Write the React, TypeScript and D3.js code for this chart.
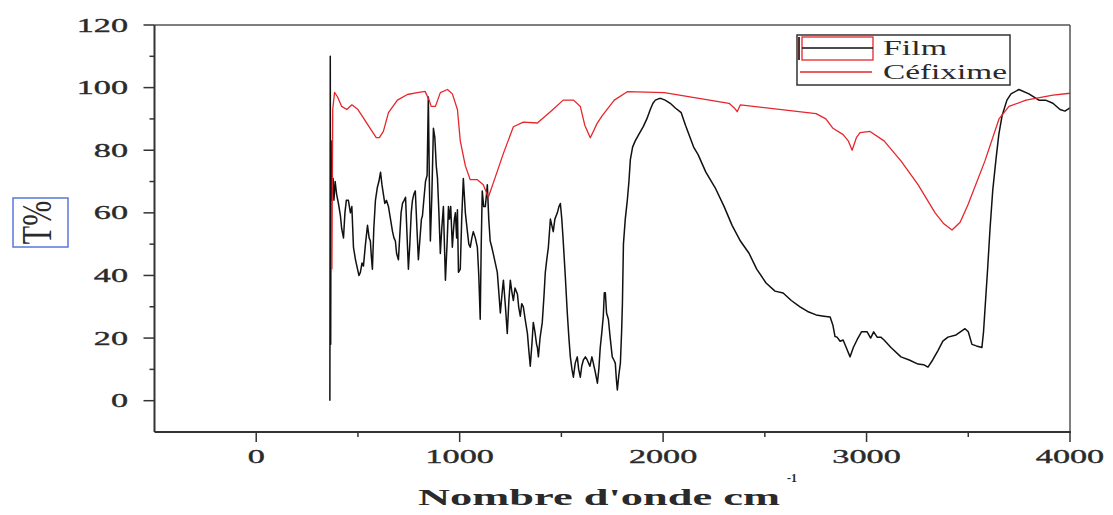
import React from "react";
import * as d3 from "d3";

// FTIR transmittance spectra (wavenumber in cm-1, transmittance in %)
const filmWave = [
  362, 364, 366, 368, 370, 372, 375, 378, 382, 388, 395, 404, 414, 420, 429, 436, 443, 453, 463, 470,
  478, 488, 498, 505, 512, 520, 527, 537, 547, 555, 561, 566, 571, 578, 586, 595, 603, 611, 618, 625,
  632, 640, 650, 660, 670, 677, 684, 690, 699, 705, 712, 719, 727, 734, 740, 748, 755, 762, 768, 775,
  782, 790, 797, 805, 812, 817, 825, 832, 840, 846, 851, 856, 863, 871, 878, 885, 891, 898, 905, 912,
  920, 925, 930, 938, 945, 950, 956, 964, 969, 974, 979, 985, 989, 994, 1003, 1010, 1018, 1028, 1038, 1045,
  1052, 1060, 1067, 1077, 1087, 1094, 1101, 1106, 1111, 1118, 1126, 1132, 1136, 1143, 1150, 1158, 1165, 1175, 1185, 1192,
  1200, 1208, 1215, 1225, 1234, 1242, 1249, 1256, 1264, 1272, 1284, 1290, 1298, 1305, 1313, 1322, 1333, 1340, 1347, 1355,
  1362, 1370, 1378, 1382, 1387, 1395, 1406, 1414, 1421, 1428, 1436, 1446, 1453, 1460, 1468, 1480, 1488, 1495, 1502, 1509,
  1519, 1529, 1537, 1544, 1552, 1559, 1568, 1578, 1585, 1593, 1600, 1608, 1618, 1627, 1640, 1650, 1657, 1667, 1677, 1684,
  1691, 1699, 1706, 1711, 1716, 1722, 1731, 1740, 1750, 1758, 1765, 1770, 1775, 1782, 1790, 1796, 1800, 1805, 1814, 1824,
  1832, 1839, 1850, 1863, 1880, 1903, 1920, 1937, 1950, 1962, 1980, 1991, 2010, 2035, 2060, 2089, 2110, 2133, 2150, 2172,
  2210, 2256, 2300, 2339, 2380, 2423, 2460, 2506, 2550, 2590, 2630, 2673, 2710, 2752, 2790, 2821, 2835, 2845, 2855, 2870,
  2885, 2900, 2919, 2935, 2953, 2975, 3003, 3020, 3035, 3052, 3070, 3086, 3120, 3169, 3210, 3253, 3280, 3302, 3325, 3351,
  3375, 3400, 3440, 3484, 3500, 3518, 3540, 3567, 3575, 3582, 3595, 3607, 3620, 3636, 3650, 3666, 3690, 3710, 3749, 3798,
  3847, 3880, 3916, 3951, 3975, 4000,
];
const filmT = [
  0, 110, 18, 83, 64, 72, 66, 71, 64, 70, 66, 63, 59, 55, 52, 60, 64, 64, 60, 62,
  49, 45, 42, 40, 41, 44, 43, 50, 56, 52, 51, 46, 42, 55, 64, 68, 70, 73, 69, 66,
  63, 64, 62, 58, 54, 52, 51, 47, 45, 52, 60, 63, 64, 65, 55, 42, 50, 60, 64, 66,
  67, 55, 45, 52, 58, 59, 65, 70, 72, 97, 70, 51, 65, 87, 84, 75, 71, 60, 47, 55,
  62, 50, 38.5, 50, 62, 58, 62, 49, 54, 58, 60, 52, 61, 41, 42, 58, 71, 60, 54, 50,
  49, 52, 54, 52, 49, 40, 26, 50, 67, 62, 62, 66, 69, 58, 51, 49, 47, 44, 41, 35,
  28, 34, 38.5, 30, 21.5, 32, 38.5, 35, 32, 36, 34, 30, 27, 31, 30, 26, 21.5, 16, 11, 18,
  25, 22, 18, 17, 14, 20, 25, 33, 41, 45, 49, 58, 56, 54, 58, 60, 62, 63, 58, 51,
  40, 28, 20, 14, 10, 7.5, 12, 14, 10, 7.5, 11, 13, 14, 13, 11, 14, 12, 9, 5.6, 10,
  17, 22, 27, 34.5, 34.5, 28, 26, 20, 14, 13, 12, 7, 3.4, 8, 12, 22, 31, 50, 58, 64,
  70, 77, 81, 83, 85, 87.6, 90, 93, 95, 96, 96.5, 96.5, 96, 95, 93.5, 92, 88, 84, 81, 78.6,
  73, 68, 62, 56, 51, 47, 42, 37.6, 35, 34.4, 32, 30, 28.5, 27.4, 27, 26.7, 24, 20.5, 20.3, 19,
  19.4, 17, 14, 17, 19.4, 22, 22, 20, 22, 20.3, 20.3, 19.4, 17, 14, 13, 11.7, 11.5, 10.7, 13, 16,
  19, 20.3, 21, 23, 22, 18, 17.5, 17, 22, 29, 42, 55, 67, 77, 85, 91, 96, 98, 99.4, 98,
  96, 96, 95, 93, 92.5, 93.5,
];

const cefWave = [
  372, 376, 385, 400, 420, 445, 470, 500, 530, 560, 590, 605, 625, 650, 694, 743, 792, 830, 850, 860,
  881, 905, 940, 964, 989, 1003, 1028, 1052, 1087, 1116, 1141, 1165, 1215, 1264, 1313, 1382, 1446, 1509, 1560, 1593,
  1615, 1642, 1657, 1675, 1700, 1760, 1824, 2006, 2324, 2350, 2364, 2380, 2752, 2800, 2835, 2885, 2910, 2929, 2950, 2968,
  3017, 3086, 3169, 3253, 3337, 3380, 3420, 3460, 3498, 3582, 3651, 3700, 3784, 3916, 4000,
];
const cefT = [
  42, 93, 98.5, 97, 94, 93, 94.5, 93, 90, 87, 84, 84, 86, 92, 96, 97.8, 98.4, 98.8, 96, 94,
  94, 98.4, 99.4, 98, 93, 83, 75, 70.6, 70.6, 69, 65, 69.5, 79, 87.5, 89, 88.7, 92.3, 96, 96, 94,
  88, 84, 86, 88.5, 91, 96, 98.7, 98.4, 95, 93.5, 92.3, 94.5, 91.7, 90, 87, 85, 83, 80, 84, 85.6,
  86, 83, 76.6, 69, 60, 56.5, 54.5, 57, 62.5, 76.6, 90, 94, 96, 97.6, 98.2,
];

const xMajorTicks = [0, 1000, 2000, 3000, 4000];
const xMinorTicks = [500, 1500, 2500, 3500];
const yMajorTicks = [0, 20, 40, 60, 80, 100, 120];
const yMinorTicks = [10, 30, 50, 70, 90, 110];

const seriesNames = ["Film", "Céfixime"];
const xTitle = "Nombre d'onde cm";
const yTitle = "T%";

const W = 1113;
const H = 515;
const FONT = "'Liberation Serif', 'Times New Roman', serif";
const INK = "#2a2a2a";
const RED = "#e5262c";

export default function App() {
  const x = d3.scaleLinear().domain([-500, 4000]).range([154.5, 1070]);
  const y = d3.scaleLinear().domain([-10, 120]).range([432, 25]);

  const film = filmWave.map((w, i) => [w, filmT[i]] as [number, number]);
  const cef = cefWave.map((w, i) => [w, cefT[i]] as [number, number]);
  const line = d3
    .line<[number, number]>()
    .x((d) => x(d[0]))
    .y((d) => y(d[1]));

  const [x0, x1] = x.range();
  const [yb, yt] = y.range();
  const digitW = 17.1; // stretched width of one digit glyph

  return (
    <svg
      width={W}
      height={H}
      style={{ position: "absolute", left: 0, top: 0, background: "#fff" }}
      fontFamily={FONT}
    >
      <rect width={W} height={H} fill="#fff" />

      {/* spectra */}
      <path d={line(film) ?? ""} fill="none" stroke="#111" strokeWidth={1.5} strokeLinejoin="round" />
      <path d={line(cef) ?? ""} fill="none" stroke={RED} strokeWidth={1.3} strokeLinejoin="round" />

      {/* frame */}
      <line x1={x0} x2={x1} y1={yt} y2={yt} stroke="#555" strokeWidth={1.5} />
      <line x1={x1} x2={x1} y1={yt} y2={yb} stroke="#555" strokeWidth={1.5} />
      <line x1={x0} x2={x0} y1={yt} y2={yb} stroke="#333" strokeWidth={2} />
      <line x1={x0} x2={x1 + 1} y1={yb} y2={yb} stroke="#333" strokeWidth={2} />

      {/* y axis ticks and labels */}
      {yMajorTicks.map((t) => (
        <g key={`ym${t}`}>
          <line x1={x0 - 11} x2={x0} y1={y(t)} y2={y(t)} stroke="#333" strokeWidth={1.5} />
          <text
            x={128}
            y={y(t) + 6.5}
            textAnchor="end"
            fontSize={19}
            fill={INK}
            stroke={INK}
            strokeWidth={0.35}
            textLength={String(t).length * digitW}
            lengthAdjust="spacingAndGlyphs"
          >
            {t}
          </text>
        </g>
      ))}
      {yMinorTicks.map((t) => (
        <line key={`yn${t}`} x1={x0 - 5} x2={x0} y1={y(t)} y2={y(t)} stroke="#333" strokeWidth={1.5} />
      ))}

      {/* x axis ticks and labels */}
      {xMajorTicks.map((t) => (
        <g key={`xm${t}`}>
          <line x1={x(t)} x2={x(t)} y1={yb} y2={yb + 10} stroke="#333" strokeWidth={1.5} />
          <text
            x={x(t)}
            y={463}
            textAnchor="middle"
            fontSize={19}
            fill={INK}
            stroke={INK}
            strokeWidth={0.35}
            textLength={String(t).length * digitW}
            lengthAdjust="spacingAndGlyphs"
          >
            {t}
          </text>
        </g>
      ))}
      {xMinorTicks.map((t) => (
        <line key={`xn${t}`} x1={x(t)} x2={x(t)} y1={yb} y2={yb + 5} stroke="#333" strokeWidth={1.5} />
      ))}

      {/* x title */}
      <text x={418} y={505} fontSize={24} fontWeight="bold" fill={INK} textLength={362} lengthAdjust="spacingAndGlyphs">
        {xTitle}
      </text>
      <text x={787} y={482} fontSize={13} fontWeight="bold" fill={INK} textLength={10} lengthAdjust="spacingAndGlyphs">
        -1
      </text>

      {/* y title in a framed box */}
      <rect x={13} y={198} width={55} height={49} fill="none" stroke="#5a78d8" strokeWidth={1.5} />
      <text
        transform="translate(51,222.5) scale(1.4,1) rotate(-90)"
        textAnchor="middle"
        fontSize={30}
        fill={INK}
      >
        {yTitle}
      </text>

      {/* legend */}
      <rect x={797} y={35} width={213} height={50} fill="#fff" stroke="#333" strokeWidth={1.5} />
      <rect x={802} y={37} width={71} height={23} fill="none" stroke={RED} strokeWidth={1.3} />
      <line x1={799} x2={799} y1={37} y2={60} stroke="#5a2a2a" strokeWidth={2} />
      <line x1={802} x2={873} y1={48} y2={48} stroke="#111" strokeWidth={1.5} />
      <line x1={800} x2={872} y1={72} y2={72} stroke={RED} strokeWidth={1.3} />
      <text x={883} y={55} fontSize={20} fill={INK} textLength={64} lengthAdjust="spacingAndGlyphs">
        {seriesNames[0]}
      </text>
      <text x={883} y={79} fontSize={20} fill={INK} textLength={124} lengthAdjust="spacingAndGlyphs">
        {seriesNames[1]}
      </text>
    </svg>
  );
}
